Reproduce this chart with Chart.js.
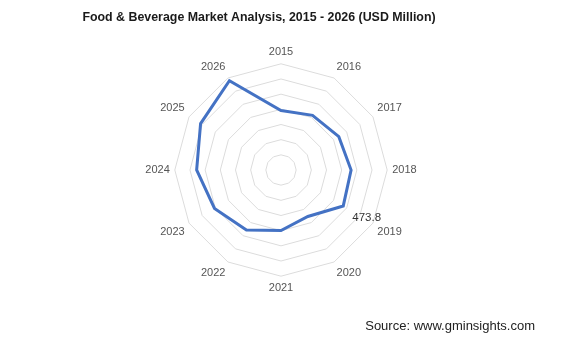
<!DOCTYPE html>
<html>
<head>
<meta charset="utf-8">
<style>
html,body{margin:0;padding:0;background:#fff;}
#wrap{position:relative;width:566px;height:340px;}
</style>
<script src="https://cdn.jsdelivr.net/npm/chart.js@4"></script>
</head>
<body>
<div id="wrap"><canvas id="c" width="566" height="340"></canvas></div>
<script>
const years = ["2015","2016","2017","2018","2019","2020","2021","2022","2023","2024","2025","2026"];
const marketValues = [392, 416, 440, 462, 473.8, 354, 399, 456, 506, 556, 612, 680];
const labelledYear = "2019";
const titleText = "Food & Beverage Market Analysis, 2015 - 2026 (USD Million)";
const sourceText = "Source: www.gminsights.com";

const extraText = {
  id: 'extraText',
  afterDatasetsDraw(chart) {
    const ctx = chart.ctx;
    const meta = chart.getDatasetMeta(0);
    const idx = years.indexOf(labelledYear);
    const pt = meta.data[idx];
    ctx.save();
    ctx.font = '11.5px "Liberation Sans", Arial, sans-serif';
    ctx.fillStyle = '#333';
    ctx.textAlign = 'left';
    ctx.textBaseline = 'middle';
    ctx.fillText(String(marketValues[idx]), pt.x + 9, pt.y + 12);
    ctx.font = '13px "Liberation Sans", Arial, sans-serif';
    ctx.fillStyle = '#222';
    ctx.textAlign = 'right';
    ctx.fillText(sourceText, 535, 326);
    ctx.font = 'bold 12.4px "Liberation Sans", Arial, sans-serif';
    ctx.fillStyle = '#1a1a1a';
    ctx.textAlign = 'center';
    ctx.fillText(titleText, 259, 17.5);
    ctx.restore();
  }
};

new Chart(document.getElementById('c'), {
  type: 'radar',
  data: {
    labels: years,
    datasets: [{
      label: 'Market',
      data: marketValues,
      borderColor: '#4472c4',
      backgroundColor: 'rgba(0,0,0,0)',
      borderWidth: 3,
      pointRadius: 0,
      fill: false,
      tension: 0
    }]
  },
  options: {
    responsive: false,
    animation: false,
    devicePixelRatio: 1,
    layout: { padding: { left: 0, right: 4, top: 45.6, bottom: 45 } },
    plugins: {
      legend: { display: false },
      tooltip: { enabled: false },
      title: { display: false }
    },
    scales: {
      r: {
        min: 0,
        max: 700,
        ticks: { stepSize: 100, display: false },
        grid: { color: '#dcdcdc', lineWidth: 1 },
        angleLines: { display: false },
        pointLabels: {
          color: '#555',
          font: { family: '"Liberation Sans", Arial, sans-serif', size: 11 },
          padding: 5
        }
      }
    }
  },
  plugins: [extraText]
});
</script>
</body>
</html>
